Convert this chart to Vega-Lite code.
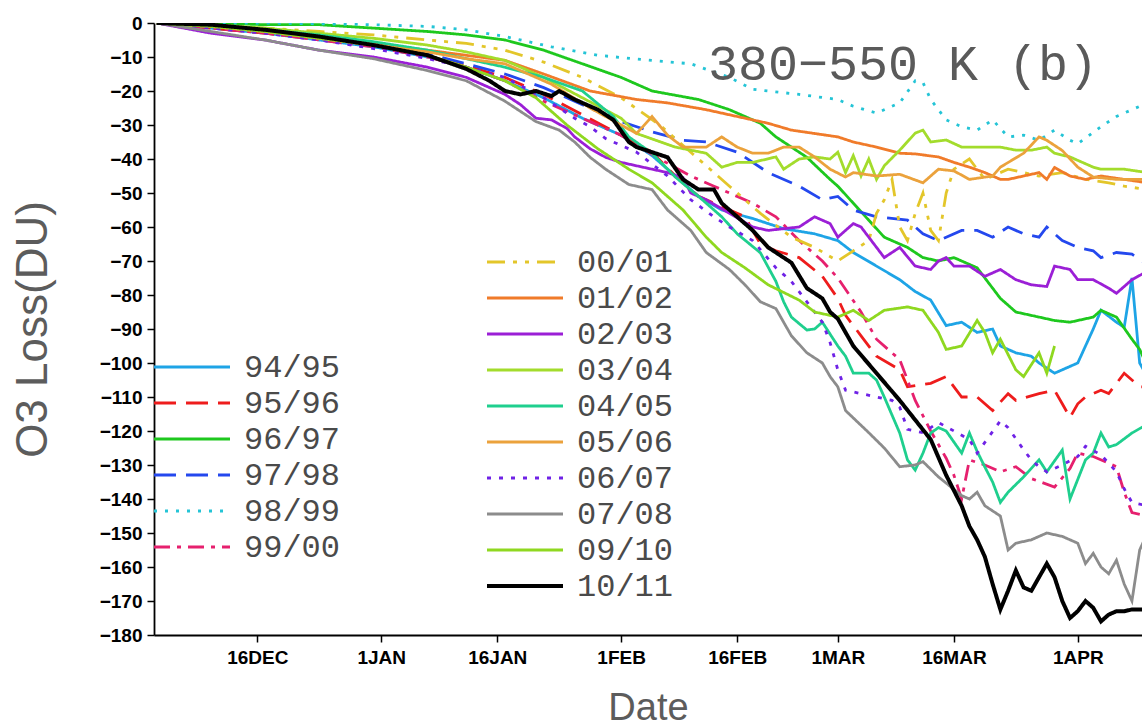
{
  "$schema": "https://vega.github.io/schema/vega-lite/v6.json",
  "width": 988,
  "height": 612,
  "autosize": "none",
  "padding": {"left": 154, "top": 23, "right": 0, "bottom": 91},
  "background": "white",
  "config": {
    "view": {"stroke": null},
    "font": "Liberation Sans",
    "axisY": {"labelOverlap": false, "labelBound": false},
    "axisX": {"labelOverlap": false}
  },
  "title": {
    "text": "380−550 K (b)",
    "orient": "top",
    "anchor": "end",
    "frame": "group",
    "offset": 0,
    "dx": -44,
    "dy": 116,
    "baseline": "alphabetic",
    "font": "Liberation Mono",
    "fontSize": 50,
    "fontWeight": "normal",
    "color": "#5a5a5a"
  },
  "datasets": {
    "loss": [
      {"season":"94/95","date":"2010-12-03","loss":0},{"season":"94/95","date":"2010-12-10","loss":-1.5},{"season":"94/95","date":"2010-12-17","loss":-3},{"season":"94/95","date":"2010-12-24","loss":-5},{"season":"94/95","date":"2010-12-31","loss":-7},{"season":"94/95","date":"2011-01-07","loss":-10},{"season":"94/95","date":"2011-01-12","loss":-13},{"season":"94/95","date":"2011-01-17","loss":-17},{"season":"94/95","date":"2011-01-22","loss":-22},{"season":"94/95","date":"2011-01-27","loss":-28},{"season":"94/95","date":"2011-02-01","loss":-33},{"season":"94/95","date":"2011-02-05","loss":-39},{"season":"94/95","date":"2011-02-08","loss":-45},{"season":"94/95","date":"2011-02-11","loss":-51},{"season":"94/95","date":"2011-02-14","loss":-55},{"season":"94/95","date":"2011-02-18","loss":-57.5},{"season":"94/95","date":"2011-02-22","loss":-60.5},{"season":"94/95","date":"2011-02-26","loss":-62},{"season":"94/95","date":"2011-03-01","loss":-64},{"season":"94/95","date":"2011-03-03","loss":-67.5},{"season":"94/95","date":"2011-03-06","loss":-71.5},{"season":"94/95","date":"2011-03-09","loss":-75.5},{"season":"94/95","date":"2011-03-11","loss":-79},{"season":"94/95","date":"2011-03-13","loss":-81.5},{"season":"94/95","date":"2011-03-15","loss":-89},{"season":"94/95","date":"2011-03-17","loss":-88},{"season":"94/95","date":"2011-03-19","loss":-91},{"season":"94/95","date":"2011-03-21","loss":-90},{"season":"94/95","date":"2011-03-22","loss":-95},{"season":"94/95","date":"2011-03-24","loss":-97},{"season":"94/95","date":"2011-03-26","loss":-98},{"season":"94/95","date":"2011-03-27","loss":-100},{"season":"94/95","date":"2011-03-29","loss":-103},{"season":"94/95","date":"2011-03-31","loss":-101},{"season":"94/95","date":"2011-04-01","loss":-100},{"season":"94/95","date":"2011-04-02","loss":-95},{"season":"94/95","date":"2011-04-03","loss":-90},{"season":"94/95","date":"2011-04-04","loss":-84.5},{"season":"94/95","date":"2011-04-06","loss":-88},{"season":"94/95","date":"2011-04-07","loss":-89.5},{"season":"94/95","date":"2011-04-08","loss":-75},{"season":"94/95","date":"2011-04-09","loss":-100},{"season":"94/95","date":"2011-04-10","loss":-104},

      {"season":"95/96","date":"2010-12-03","loss":0},{"season":"95/96","date":"2010-12-10","loss":-1.5},{"season":"95/96","date":"2010-12-17","loss":-3},{"season":"95/96","date":"2010-12-24","loss":-4.5},{"season":"95/96","date":"2010-12-31","loss":-6.5},{"season":"95/96","date":"2011-01-07","loss":-9.5},{"season":"95/96","date":"2011-01-12","loss":-12.5},{"season":"95/96","date":"2011-01-17","loss":-16},{"season":"95/96","date":"2011-01-22","loss":-21},{"season":"95/96","date":"2011-01-27","loss":-27},{"season":"95/96","date":"2011-02-01","loss":-33},{"season":"95/96","date":"2011-02-05","loss":-38},{"season":"95/96","date":"2011-02-08","loss":-45},{"season":"95/96","date":"2011-02-11","loss":-51},{"season":"95/96","date":"2011-02-14","loss":-54},{"season":"95/96","date":"2011-02-17","loss":-57},{"season":"95/96","date":"2011-02-19","loss":-65},{"season":"95/96","date":"2011-02-21","loss":-67},{"season":"95/96","date":"2011-02-24","loss":-69},{"season":"95/96","date":"2011-02-27","loss":-74.5},{"season":"95/96","date":"2011-03-01","loss":-81},{"season":"95/96","date":"2011-03-02","loss":-86},{"season":"95/96","date":"2011-03-04","loss":-92},{"season":"95/96","date":"2011-03-06","loss":-98},{"season":"95/96","date":"2011-03-09","loss":-102},{"season":"95/96","date":"2011-03-10","loss":-107},{"season":"95/96","date":"2011-03-13","loss":-106},{"season":"95/96","date":"2011-03-15","loss":-104},{"season":"95/96","date":"2011-03-17","loss":-110},{"season":"95/96","date":"2011-03-19","loss":-110},{"season":"95/96","date":"2011-03-21","loss":-114},{"season":"95/96","date":"2011-03-23","loss":-109},{"season":"95/96","date":"2011-03-24","loss":-111},{"season":"95/96","date":"2011-03-27","loss":-109},{"season":"95/96","date":"2011-03-29","loss":-108},{"season":"95/96","date":"2011-03-30","loss":-112},{"season":"95/96","date":"2011-03-31","loss":-116},{"season":"95/96","date":"2011-04-01","loss":-112},{"season":"95/96","date":"2011-04-02","loss":-110},{"season":"95/96","date":"2011-04-04","loss":-108},{"season":"95/96","date":"2011-04-05","loss":-109},{"season":"95/96","date":"2011-04-07","loss":-103},{"season":"95/96","date":"2011-04-09","loss":-107},{"season":"95/96","date":"2011-04-10","loss":-107},

      {"season":"96/97","date":"2010-12-03","loss":0},{"season":"96/97","date":"2010-12-10","loss":0},{"season":"96/97","date":"2010-12-17","loss":-0.5},{"season":"96/97","date":"2010-12-24","loss":-0.5},{"season":"96/97","date":"2010-12-31","loss":-1.5},{"season":"96/97","date":"2011-01-07","loss":-2.5},{"season":"96/97","date":"2011-01-12","loss":-3.5},{"season":"96/97","date":"2011-01-17","loss":-5},{"season":"96/97","date":"2011-01-22","loss":-8},{"season":"96/97","date":"2011-01-27","loss":-12},{"season":"96/97","date":"2011-02-01","loss":-16},{"season":"96/97","date":"2011-02-05","loss":-20},{"season":"96/97","date":"2011-02-11","loss":-22.5},{"season":"96/97","date":"2011-02-15","loss":-25.5},{"season":"96/97","date":"2011-02-19","loss":-29.5},{"season":"96/97","date":"2011-02-21","loss":-33.5},{"season":"96/97","date":"2011-02-25","loss":-39.5},{"season":"96/97","date":"2011-02-28","loss":-46},{"season":"96/97","date":"2011-03-01","loss":-48},{"season":"96/97","date":"2011-03-03","loss":-53},{"season":"96/97","date":"2011-03-05","loss":-58},{"season":"96/97","date":"2011-03-07","loss":-63},{"season":"96/97","date":"2011-03-10","loss":-66},{"season":"96/97","date":"2011-03-12","loss":-69},{"season":"96/97","date":"2011-03-14","loss":-70},{"season":"96/97","date":"2011-03-16","loss":-69},{"season":"96/97","date":"2011-03-19","loss":-72},{"season":"96/97","date":"2011-03-20","loss":-75},{"season":"96/97","date":"2011-03-21","loss":-78},{"season":"96/97","date":"2011-03-22","loss":-81},{"season":"96/97","date":"2011-03-24","loss":-85},{"season":"96/97","date":"2011-03-27","loss":-86.5},{"season":"96/97","date":"2011-03-29","loss":-87.5},{"season":"96/97","date":"2011-03-31","loss":-88},{"season":"96/97","date":"2011-04-03","loss":-86.5},{"season":"96/97","date":"2011-04-04","loss":-84.5},{"season":"96/97","date":"2011-04-06","loss":-86.5},{"season":"96/97","date":"2011-04-08","loss":-93},{"season":"96/97","date":"2011-04-09","loss":-96},{"season":"96/97","date":"2011-04-10","loss":-101},

      {"season":"97/98","date":"2010-12-03","loss":0},{"season":"97/98","date":"2010-12-10","loss":-1},{"season":"97/98","date":"2010-12-17","loss":-2.5},{"season":"97/98","date":"2010-12-24","loss":-4.5},{"season":"97/98","date":"2010-12-31","loss":-6.5},{"season":"97/98","date":"2011-01-07","loss":-9},{"season":"97/98","date":"2011-01-12","loss":-12},{"season":"97/98","date":"2011-01-17","loss":-15},{"season":"97/98","date":"2011-01-22","loss":-19},{"season":"97/98","date":"2011-01-27","loss":-24},{"season":"97/98","date":"2011-02-01","loss":-29},{"season":"97/98","date":"2011-02-05","loss":-32},{"season":"97/98","date":"2011-02-09","loss":-34.5},{"season":"97/98","date":"2011-02-12","loss":-35},{"season":"97/98","date":"2011-02-16","loss":-38},{"season":"97/98","date":"2011-02-20","loss":-44},{"season":"97/98","date":"2011-02-24","loss":-48},{"season":"97/98","date":"2011-02-27","loss":-52},{"season":"97/98","date":"2011-03-01","loss":-51},{"season":"97/98","date":"2011-03-03","loss":-55},{"season":"97/98","date":"2011-03-06","loss":-57},{"season":"97/98","date":"2011-03-10","loss":-58},{"season":"97/98","date":"2011-03-12","loss":-62},{"season":"97/98","date":"2011-03-14","loss":-64},{"season":"97/98","date":"2011-03-15","loss":-63},{"season":"97/98","date":"2011-03-17","loss":-61},{"season":"97/98","date":"2011-03-19","loss":-61},{"season":"97/98","date":"2011-03-21","loss":-63},{"season":"97/98","date":"2011-03-23","loss":-60},{"season":"97/98","date":"2011-03-25","loss":-62},{"season":"97/98","date":"2011-03-27","loss":-63},{"season":"97/98","date":"2011-03-28","loss":-60},{"season":"97/98","date":"2011-03-30","loss":-64},{"season":"97/98","date":"2011-04-01","loss":-66},{"season":"97/98","date":"2011-04-03","loss":-67},{"season":"97/98","date":"2011-04-04","loss":-69},{"season":"97/98","date":"2011-04-06","loss":-67.5},{"season":"97/98","date":"2011-04-08","loss":-68},{"season":"97/98","date":"2011-04-10","loss":-71},

      {"season":"98/99","date":"2010-12-03","loss":0},{"season":"98/99","date":"2010-12-17","loss":0},{"season":"98/99","date":"2010-12-31","loss":-0.5},{"season":"98/99","date":"2011-01-07","loss":-1},{"season":"98/99","date":"2011-01-12","loss":-2},{"season":"98/99","date":"2011-01-17","loss":-4},{"season":"98/99","date":"2011-01-23","loss":-7},{"season":"98/99","date":"2011-01-29","loss":-9.5},{"season":"98/99","date":"2011-02-05","loss":-11},{"season":"98/99","date":"2011-02-10","loss":-12},{"season":"98/99","date":"2011-02-15","loss":-16},{"season":"98/99","date":"2011-02-18","loss":-19.5},{"season":"98/99","date":"2011-02-24","loss":-21},{"season":"98/99","date":"2011-03-01","loss":-22.5},{"season":"98/99","date":"2011-03-03","loss":-24.5},{"season":"98/99","date":"2011-03-06","loss":-26.5},{"season":"98/99","date":"2011-03-09","loss":-23.5},{"season":"98/99","date":"2011-03-11","loss":-17},{"season":"98/99","date":"2011-03-12","loss":-17.5},{"season":"98/99","date":"2011-03-13","loss":-22.5},{"season":"98/99","date":"2011-03-15","loss":-28.5},{"season":"98/99","date":"2011-03-17","loss":-30.5},{"season":"98/99","date":"2011-03-19","loss":-31.5},{"season":"98/99","date":"2011-03-21","loss":-28.5},{"season":"98/99","date":"2011-03-23","loss":-33.5},{"season":"98/99","date":"2011-03-25","loss":-33},{"season":"98/99","date":"2011-03-27","loss":-34.5},{"season":"98/99","date":"2011-03-29","loss":-31.5},{"season":"98/99","date":"2011-03-31","loss":-34.5},{"season":"98/99","date":"2011-04-01","loss":-35.5},{"season":"98/99","date":"2011-04-04","loss":-30.5},{"season":"98/99","date":"2011-04-06","loss":-27.5},{"season":"98/99","date":"2011-04-08","loss":-25.5},{"season":"98/99","date":"2011-04-10","loss":-23.5},

      {"season":"99/00","date":"2010-12-03","loss":0},{"season":"99/00","date":"2010-12-10","loss":-1.5},{"season":"99/00","date":"2010-12-17","loss":-3},{"season":"99/00","date":"2010-12-24","loss":-5},{"season":"99/00","date":"2010-12-31","loss":-7},{"season":"99/00","date":"2011-01-07","loss":-10},{"season":"99/00","date":"2011-01-12","loss":-13},{"season":"99/00","date":"2011-01-17","loss":-17},{"season":"99/00","date":"2011-01-22","loss":-23},{"season":"99/00","date":"2011-01-27","loss":-28},{"season":"99/00","date":"2011-02-01","loss":-33},{"season":"99/00","date":"2011-02-06","loss":-40},{"season":"99/00","date":"2011-02-10","loss":-45},{"season":"99/00","date":"2011-02-13","loss":-48},{"season":"99/00","date":"2011-02-18","loss":-53},{"season":"99/00","date":"2011-02-21","loss":-57},{"season":"99/00","date":"2011-02-24","loss":-64},{"season":"99/00","date":"2011-02-27","loss":-70},{"season":"99/00","date":"2011-03-01","loss":-75},{"season":"99/00","date":"2011-03-04","loss":-85},{"season":"99/00","date":"2011-03-06","loss":-93},{"season":"99/00","date":"2011-03-09","loss":-99},{"season":"99/00","date":"2011-03-11","loss":-111},{"season":"99/00","date":"2011-03-13","loss":-120},{"season":"99/00","date":"2011-03-15","loss":-128},{"season":"99/00","date":"2011-03-16","loss":-133},{"season":"99/00","date":"2011-03-17","loss":-140},{"season":"99/00","date":"2011-03-18","loss":-128.5},{"season":"99/00","date":"2011-03-20","loss":-130},{"season":"99/00","date":"2011-03-22","loss":-132},{"season":"99/00","date":"2011-03-24","loss":-130.5},{"season":"99/00","date":"2011-03-26","loss":-134},{"season":"99/00","date":"2011-03-29","loss":-136.5},{"season":"99/00","date":"2011-03-31","loss":-131},{"season":"99/00","date":"2011-04-01","loss":-126.5},{"season":"99/00","date":"2011-04-03","loss":-127.5},{"season":"99/00","date":"2011-04-06","loss":-130.5},{"season":"99/00","date":"2011-04-07","loss":-138},{"season":"99/00","date":"2011-04-08","loss":-144},{"season":"99/00","date":"2011-04-10","loss":-145},

      {"season":"00/01","date":"2010-12-03","loss":0},{"season":"00/01","date":"2010-12-10","loss":-1},{"season":"00/01","date":"2010-12-17","loss":-1.5},{"season":"00/01","date":"2010-12-24","loss":-2.5},{"season":"00/01","date":"2010-12-31","loss":-3.5},{"season":"00/01","date":"2011-01-07","loss":-5},{"season":"00/01","date":"2011-01-12","loss":-6},{"season":"00/01","date":"2011-01-17","loss":-8},{"season":"00/01","date":"2011-01-22","loss":-11.5},{"season":"00/01","date":"2011-01-27","loss":-16},{"season":"00/01","date":"2011-02-01","loss":-22},{"season":"00/01","date":"2011-02-06","loss":-30},{"season":"00/01","date":"2011-02-10","loss":-38},{"season":"00/01","date":"2011-02-15","loss":-48},{"season":"00/01","date":"2011-02-19","loss":-56},{"season":"00/01","date":"2011-02-23","loss":-63},{"season":"00/01","date":"2011-02-26","loss":-66},{"season":"00/01","date":"2011-03-01","loss":-70},{"season":"00/01","date":"2011-03-03","loss":-67},{"season":"00/01","date":"2011-03-05","loss":-64},{"season":"00/01","date":"2011-03-06","loss":-56},{"season":"00/01","date":"2011-03-07","loss":-52},{"season":"00/01","date":"2011-03-08","loss":-46},{"season":"00/01","date":"2011-03-09","loss":-60},{"season":"00/01","date":"2011-03-10","loss":-64},{"season":"00/01","date":"2011-03-11","loss":-56},{"season":"00/01","date":"2011-03-12","loss":-50},{"season":"00/01","date":"2011-03-13","loss":-61},{"season":"00/01","date":"2011-03-14","loss":-64},{"season":"00/01","date":"2011-03-15","loss":-50},{"season":"00/01","date":"2011-03-16","loss":-43},{"season":"00/01","date":"2011-03-18","loss":-40},{"season":"00/01","date":"2011-03-20","loss":-46},{"season":"00/01","date":"2011-03-23","loss":-43},{"season":"00/01","date":"2011-03-27","loss":-45},{"season":"00/01","date":"2011-03-30","loss":-44},{"season":"00/01","date":"2011-04-02","loss":-46},{"season":"00/01","date":"2011-04-05","loss":-47},{"season":"00/01","date":"2011-04-07","loss":-48},{"season":"00/01","date":"2011-04-10","loss":-49},

      {"season":"01/02","date":"2010-12-03","loss":0},{"season":"01/02","date":"2010-12-10","loss":-1},{"season":"01/02","date":"2010-12-17","loss":-2.5},{"season":"01/02","date":"2010-12-24","loss":-4},{"season":"01/02","date":"2010-12-31","loss":-6},{"season":"01/02","date":"2011-01-07","loss":-8},{"season":"01/02","date":"2011-01-12","loss":-9.5},{"season":"01/02","date":"2011-01-17","loss":-11},{"season":"01/02","date":"2011-01-22","loss":-15},{"season":"01/02","date":"2011-01-28","loss":-20},{"season":"01/02","date":"2011-02-03","loss":-22.5},{"season":"01/02","date":"2011-02-07","loss":-23.5},{"season":"01/02","date":"2011-02-12","loss":-25.5},{"season":"01/02","date":"2011-02-16","loss":-27.5},{"season":"01/02","date":"2011-02-20","loss":-29.5},{"season":"01/02","date":"2011-02-23","loss":-31.5},{"season":"01/02","date":"2011-02-26","loss":-32.5},{"season":"01/02","date":"2011-03-01","loss":-33.5},{"season":"01/02","date":"2011-03-03","loss":-35},{"season":"01/02","date":"2011-03-06","loss":-36.5},{"season":"01/02","date":"2011-03-09","loss":-38.3},{"season":"01/02","date":"2011-03-11","loss":-38.5},{"season":"01/02","date":"2011-03-14","loss":-39.4},{"season":"01/02","date":"2011-03-16","loss":-41},{"season":"01/02","date":"2011-03-18","loss":-42.4},{"season":"01/02","date":"2011-03-20","loss":-44},{"season":"01/02","date":"2011-03-22","loss":-46},{"season":"01/02","date":"2011-03-23","loss":-46},{"season":"01/02","date":"2011-03-25","loss":-45},{"season":"01/02","date":"2011-03-27","loss":-44},{"season":"01/02","date":"2011-03-28","loss":-46},{"season":"01/02","date":"2011-03-29","loss":-42.5},{"season":"01/02","date":"2011-03-31","loss":-45},{"season":"01/02","date":"2011-04-02","loss":-46},{"season":"01/02","date":"2011-04-04","loss":-45},{"season":"01/02","date":"2011-04-07","loss":-46},{"season":"01/02","date":"2011-04-10","loss":-47},

      {"season":"02/03","date":"2010-12-03","loss":0},{"season":"02/03","date":"2010-12-10","loss":-3},{"season":"02/03","date":"2010-12-17","loss":-5},{"season":"02/03","date":"2010-12-24","loss":-8},{"season":"02/03","date":"2010-12-31","loss":-10},{"season":"02/03","date":"2011-01-07","loss":-13},{"season":"02/03","date":"2011-01-12","loss":-16},{"season":"02/03","date":"2011-01-17","loss":-21},{"season":"02/03","date":"2011-01-19","loss":-24},{"season":"02/03","date":"2011-01-21","loss":-28},{"season":"02/03","date":"2011-01-23","loss":-28.5},{"season":"02/03","date":"2011-01-25","loss":-31},{"season":"02/03","date":"2011-01-26","loss":-33.5},{"season":"02/03","date":"2011-01-28","loss":-37},{"season":"02/03","date":"2011-01-30","loss":-39.5},{"season":"02/03","date":"2011-02-01","loss":-41},{"season":"02/03","date":"2011-02-03","loss":-42},{"season":"02/03","date":"2011-02-05","loss":-43},{"season":"02/03","date":"2011-02-07","loss":-44},{"season":"02/03","date":"2011-02-09","loss":-45.5},{"season":"02/03","date":"2011-02-10","loss":-50},{"season":"02/03","date":"2011-02-12","loss":-52},{"season":"02/03","date":"2011-02-15","loss":-56},{"season":"02/03","date":"2011-02-18","loss":-60},{"season":"02/03","date":"2011-02-20","loss":-61},{"season":"02/03","date":"2011-02-22","loss":-60.5},{"season":"02/03","date":"2011-02-24","loss":-60},{"season":"02/03","date":"2011-02-26","loss":-57},{"season":"02/03","date":"2011-02-28","loss":-59},{"season":"02/03","date":"2011-03-01","loss":-63},{"season":"02/03","date":"2011-03-03","loss":-59},{"season":"02/03","date":"2011-03-04","loss":-60},{"season":"02/03","date":"2011-03-06","loss":-66},{"season":"02/03","date":"2011-03-07","loss":-69},{"season":"02/03","date":"2011-03-09","loss":-66},{"season":"02/03","date":"2011-03-11","loss":-71.5},{"season":"02/03","date":"2011-03-13","loss":-72.5},{"season":"02/03","date":"2011-03-14","loss":-70},{"season":"02/03","date":"2011-03-15","loss":-69},{"season":"02/03","date":"2011-03-16","loss":-71.5},{"season":"02/03","date":"2011-03-18","loss":-71.5},{"season":"02/03","date":"2011-03-20","loss":-74.5},{"season":"02/03","date":"2011-03-22","loss":-72.5},{"season":"02/03","date":"2011-03-24","loss":-75.5},{"season":"02/03","date":"2011-03-26","loss":-77},{"season":"02/03","date":"2011-03-28","loss":-77.5},{"season":"02/03","date":"2011-03-29","loss":-71.5},{"season":"02/03","date":"2011-03-31","loss":-72.5},{"season":"02/03","date":"2011-04-01","loss":-75.5},{"season":"02/03","date":"2011-04-03","loss":-75.5},{"season":"02/03","date":"2011-04-05","loss":-78},{"season":"02/03","date":"2011-04-06","loss":-79.5},{"season":"02/03","date":"2011-04-08","loss":-75.5},{"season":"02/03","date":"2011-04-10","loss":-73},

      {"season":"03/04","date":"2010-12-03","loss":0},{"season":"03/04","date":"2010-12-10","loss":-0.5},{"season":"03/04","date":"2010-12-17","loss":-1.5},{"season":"03/04","date":"2010-12-24","loss":-3},{"season":"03/04","date":"2010-12-31","loss":-4.5},{"season":"03/04","date":"2011-01-07","loss":-6.5},{"season":"03/04","date":"2011-01-12","loss":-8.5},{"season":"03/04","date":"2011-01-17","loss":-11},{"season":"03/04","date":"2011-01-22","loss":-16},{"season":"03/04","date":"2011-01-27","loss":-22},{"season":"03/04","date":"2011-02-01","loss":-28},{"season":"03/04","date":"2011-02-03","loss":-32.5},{"season":"03/04","date":"2011-02-08","loss":-36.5},{"season":"03/04","date":"2011-02-12","loss":-38.3},{"season":"03/04","date":"2011-02-14","loss":-42.4},{"season":"03/04","date":"2011-02-16","loss":-41},{"season":"03/04","date":"2011-02-18","loss":-41},{"season":"03/04","date":"2011-02-21","loss":-39.4},{"season":"03/04","date":"2011-02-22","loss":-43},{"season":"03/04","date":"2011-02-24","loss":-40},{"season":"03/04","date":"2011-02-26","loss":-39.4},{"season":"03/04","date":"2011-02-28","loss":-40},{"season":"03/04","date":"2011-03-01","loss":-38},{"season":"03/04","date":"2011-03-02","loss":-44},{"season":"03/04","date":"2011-03-03","loss":-39},{"season":"03/04","date":"2011-03-04","loss":-45},{"season":"03/04","date":"2011-03-05","loss":-40},{"season":"03/04","date":"2011-03-06","loss":-46},{"season":"03/04","date":"2011-03-07","loss":-42},{"season":"03/04","date":"2011-03-09","loss":-37.4},{"season":"03/04","date":"2011-03-11","loss":-32.4},{"season":"03/04","date":"2011-03-12","loss":-31.5},{"season":"03/04","date":"2011-03-13","loss":-35},{"season":"03/04","date":"2011-03-15","loss":-34.4},{"season":"03/04","date":"2011-03-17","loss":-36.5},{"season":"03/04","date":"2011-03-20","loss":-36.5},{"season":"03/04","date":"2011-03-22","loss":-36.5},{"season":"03/04","date":"2011-03-24","loss":-37.4},{"season":"03/04","date":"2011-03-26","loss":-37.4},{"season":"03/04","date":"2011-03-28","loss":-36.5},{"season":"03/04","date":"2011-03-29","loss":-38.3},{"season":"03/04","date":"2011-03-31","loss":-39.4},{"season":"03/04","date":"2011-04-03","loss":-42.4},{"season":"03/04","date":"2011-04-04","loss":-43},{"season":"03/04","date":"2011-04-07","loss":-43},{"season":"03/04","date":"2011-04-10","loss":-44},

      {"season":"04/05","date":"2010-12-03","loss":0},{"season":"04/05","date":"2010-12-10","loss":-1},{"season":"04/05","date":"2010-12-17","loss":-2},{"season":"04/05","date":"2010-12-24","loss":-3.5},{"season":"04/05","date":"2010-12-31","loss":-5.5},{"season":"04/05","date":"2011-01-07","loss":-8},{"season":"04/05","date":"2011-01-12","loss":-10.5},{"season":"04/05","date":"2011-01-17","loss":-13},{"season":"04/05","date":"2011-01-22","loss":-16},{"season":"04/05","date":"2011-01-27","loss":-20},{"season":"04/05","date":"2011-01-31","loss":-27.5},{"season":"04/05","date":"2011-02-02","loss":-33.5},{"season":"04/05","date":"2011-02-05","loss":-38.3},{"season":"04/05","date":"2011-02-08","loss":-45.3},{"season":"04/05","date":"2011-02-11","loss":-51},{"season":"04/05","date":"2011-02-14","loss":-57},{"season":"04/05","date":"2011-02-16","loss":-62},{"season":"04/05","date":"2011-02-19","loss":-67.6},{"season":"04/05","date":"2011-02-21","loss":-76},{"season":"04/05","date":"2011-02-22","loss":-82},{"season":"04/05","date":"2011-02-23","loss":-86.5},{"season":"04/05","date":"2011-02-25","loss":-90.3},{"season":"04/05","date":"2011-02-26","loss":-90},{"season":"04/05","date":"2011-02-27","loss":-88},{"season":"04/05","date":"2011-03-01","loss":-95},{"season":"04/05","date":"2011-03-02","loss":-98},{"season":"04/05","date":"2011-03-03","loss":-103},{"season":"04/05","date":"2011-03-05","loss":-103},{"season":"04/05","date":"2011-03-06","loss":-105},{"season":"04/05","date":"2011-03-07","loss":-110},{"season":"04/05","date":"2011-03-09","loss":-120.6},{"season":"04/05","date":"2011-03-10","loss":-128.5},{"season":"04/05","date":"2011-03-11","loss":-131.5},{"season":"04/05","date":"2011-03-12","loss":-126.5},{"season":"04/05","date":"2011-03-13","loss":-120.6},{"season":"04/05","date":"2011-03-14","loss":-119},{"season":"04/05","date":"2011-03-15","loss":-120},{"season":"04/05","date":"2011-03-17","loss":-126.5},{"season":"04/05","date":"2011-03-18","loss":-120.6},{"season":"04/05","date":"2011-03-19","loss":-126},{"season":"04/05","date":"2011-03-20","loss":-130.6},{"season":"04/05","date":"2011-03-21","loss":-135},{"season":"04/05","date":"2011-03-22","loss":-141},{"season":"04/05","date":"2011-03-23","loss":-138},{"season":"04/05","date":"2011-03-25","loss":-133.5},{"season":"04/05","date":"2011-03-27","loss":-128.5},{"season":"04/05","date":"2011-03-28","loss":-132},{"season":"04/05","date":"2011-03-30","loss":-125.6},{"season":"04/05","date":"2011-03-31","loss":-140},{"season":"04/05","date":"2011-04-02","loss":-128.5},{"season":"04/05","date":"2011-04-03","loss":-126.5},{"season":"04/05","date":"2011-04-04","loss":-120.6},{"season":"04/05","date":"2011-04-05","loss":-124.7},{"season":"04/05","date":"2011-04-06","loss":-124},{"season":"04/05","date":"2011-04-08","loss":-120.6},{"season":"04/05","date":"2011-04-10","loss":-118},

      {"season":"05/06","date":"2010-12-03","loss":0},{"season":"05/06","date":"2010-12-10","loss":-1},{"season":"05/06","date":"2010-12-17","loss":-2.5},{"season":"05/06","date":"2010-12-24","loss":-4.5},{"season":"05/06","date":"2010-12-31","loss":-6.5},{"season":"05/06","date":"2011-01-07","loss":-8.5},{"season":"05/06","date":"2011-01-12","loss":-10.5},{"season":"05/06","date":"2011-01-17","loss":-12},{"season":"05/06","date":"2011-01-23","loss":-18},{"season":"05/06","date":"2011-01-28","loss":-25},{"season":"05/06","date":"2011-02-01","loss":-30},{"season":"05/06","date":"2011-02-03","loss":-32.5},{"season":"05/06","date":"2011-02-05","loss":-27.5},{"season":"05/06","date":"2011-02-07","loss":-33},{"season":"05/06","date":"2011-02-09","loss":-36.5},{"season":"05/06","date":"2011-02-12","loss":-36.5},{"season":"05/06","date":"2011-02-14","loss":-33.5},{"season":"05/06","date":"2011-02-16","loss":-36.5},{"season":"05/06","date":"2011-02-18","loss":-38.3},{"season":"05/06","date":"2011-02-20","loss":-38.3},{"season":"05/06","date":"2011-02-22","loss":-36.5},{"season":"05/06","date":"2011-02-24","loss":-36.5},{"season":"05/06","date":"2011-02-26","loss":-39.4},{"season":"05/06","date":"2011-02-28","loss":-43},{"season":"05/06","date":"2011-03-02","loss":-45.3},{"season":"05/06","date":"2011-03-03","loss":-44},{"season":"05/06","date":"2011-03-06","loss":-45},{"season":"05/06","date":"2011-03-09","loss":-44.5},{"season":"05/06","date":"2011-03-12","loss":-47},{"season":"05/06","date":"2011-03-14","loss":-43},{"season":"05/06","date":"2011-03-16","loss":-43.5},{"season":"05/06","date":"2011-03-18","loss":-46},{"season":"05/06","date":"2011-03-21","loss":-45},{"season":"05/06","date":"2011-03-22","loss":-42.4},{"season":"05/06","date":"2011-03-25","loss":-38.3},{"season":"05/06","date":"2011-03-27","loss":-33.5},{"season":"05/06","date":"2011-03-28","loss":-34.5},{"season":"05/06","date":"2011-03-30","loss":-37.5},{"season":"05/06","date":"2011-04-01","loss":-42.4},{"season":"05/06","date":"2011-04-03","loss":-45.3},{"season":"05/06","date":"2011-04-06","loss":-46},{"season":"05/06","date":"2011-04-10","loss":-46},

      {"season":"06/07","date":"2010-12-03","loss":0},{"season":"06/07","date":"2010-12-10","loss":-1.5},{"season":"06/07","date":"2010-12-17","loss":-3},{"season":"06/07","date":"2010-12-24","loss":-5},{"season":"06/07","date":"2010-12-31","loss":-7.5},{"season":"06/07","date":"2011-01-07","loss":-10.5},{"season":"06/07","date":"2011-01-12","loss":-13},{"season":"06/07","date":"2011-01-17","loss":-16},{"season":"06/07","date":"2011-01-22","loss":-22},{"season":"06/07","date":"2011-01-26","loss":-28},{"season":"06/07","date":"2011-01-28","loss":-30.5},{"season":"06/07","date":"2011-01-30","loss":-34},{"season":"06/07","date":"2011-02-03","loss":-38},{"season":"06/07","date":"2011-02-07","loss":-45},{"season":"06/07","date":"2011-02-10","loss":-52},{"season":"06/07","date":"2011-02-13","loss":-57},{"season":"06/07","date":"2011-02-15","loss":-60},{"season":"06/07","date":"2011-02-18","loss":-64},{"season":"06/07","date":"2011-02-21","loss":-72},{"season":"06/07","date":"2011-02-23","loss":-76},{"season":"06/07","date":"2011-02-25","loss":-82},{"season":"06/07","date":"2011-02-27","loss":-88},{"season":"06/07","date":"2011-02-28","loss":-94},{"season":"06/07","date":"2011-03-01","loss":-102},{"season":"06/07","date":"2011-03-02","loss":-108},{"season":"06/07","date":"2011-03-04","loss":-109},{"season":"06/07","date":"2011-03-06","loss":-110},{"season":"06/07","date":"2011-03-08","loss":-111},{"season":"06/07","date":"2011-03-09","loss":-113},{"season":"06/07","date":"2011-03-10","loss":-119.5},{"season":"06/07","date":"2011-03-12","loss":-120.5},{"season":"06/07","date":"2011-03-14","loss":-117.5},{"season":"06/07","date":"2011-03-16","loss":-120},{"season":"06/07","date":"2011-03-18","loss":-122.5},{"season":"06/07","date":"2011-03-19","loss":-126.5},{"season":"06/07","date":"2011-03-22","loss":-117},{"season":"06/07","date":"2011-03-23","loss":-119},{"season":"06/07","date":"2011-03-25","loss":-125.5},{"season":"06/07","date":"2011-03-26","loss":-128.5},{"season":"06/07","date":"2011-03-27","loss":-130.5},{"season":"06/07","date":"2011-03-28","loss":-132},{"season":"06/07","date":"2011-03-30","loss":-130},{"season":"06/07","date":"2011-04-01","loss":-127.5},{"season":"06/07","date":"2011-04-02","loss":-124.5},{"season":"06/07","date":"2011-04-04","loss":-127},{"season":"06/07","date":"2011-04-06","loss":-132},{"season":"06/07","date":"2011-04-07","loss":-137},{"season":"06/07","date":"2011-04-08","loss":-141},{"season":"06/07","date":"2011-04-10","loss":-142},

      {"season":"07/08","date":"2010-12-03","loss":0},{"season":"07/08","date":"2010-12-10","loss":-2.5},{"season":"07/08","date":"2010-12-17","loss":-5},{"season":"07/08","date":"2010-12-24","loss":-8},{"season":"07/08","date":"2010-12-31","loss":-10.5},{"season":"07/08","date":"2011-01-07","loss":-14},{"season":"07/08","date":"2011-01-12","loss":-17},{"season":"07/08","date":"2011-01-17","loss":-23},{"season":"07/08","date":"2011-01-21","loss":-29},{"season":"07/08","date":"2011-01-24","loss":-31.5},{"season":"07/08","date":"2011-01-26","loss":-35},{"season":"07/08","date":"2011-01-28","loss":-39.5},{"season":"07/08","date":"2011-01-30","loss":-43},{"season":"07/08","date":"2011-02-02","loss":-47.5},{"season":"07/08","date":"2011-02-05","loss":-49},{"season":"07/08","date":"2011-02-07","loss":-55},{"season":"07/08","date":"2011-02-10","loss":-61},{"season":"07/08","date":"2011-02-12","loss":-67.5},{"season":"07/08","date":"2011-02-15","loss":-72.5},{"season":"07/08","date":"2011-02-17","loss":-77},{"season":"07/08","date":"2011-02-19","loss":-82},{"season":"07/08","date":"2011-02-21","loss":-84},{"season":"07/08","date":"2011-02-23","loss":-92},{"season":"07/08","date":"2011-02-25","loss":-97},{"season":"07/08","date":"2011-02-27","loss":-100},{"season":"07/08","date":"2011-02-28","loss":-104},{"season":"07/08","date":"2011-03-01","loss":-107},{"season":"07/08","date":"2011-03-02","loss":-114},{"season":"07/08","date":"2011-03-05","loss":-120.5},{"season":"07/08","date":"2011-03-07","loss":-125},{"season":"07/08","date":"2011-03-09","loss":-130.5},{"season":"07/08","date":"2011-03-11","loss":-130},{"season":"07/08","date":"2011-03-12","loss":-129},{"season":"07/08","date":"2011-03-14","loss":-133.5},{"season":"07/08","date":"2011-03-17","loss":-139},{"season":"07/08","date":"2011-03-18","loss":-140},{"season":"07/08","date":"2011-03-19","loss":-138},{"season":"07/08","date":"2011-03-20","loss":-142},{"season":"07/08","date":"2011-03-22","loss":-145},{"season":"07/08","date":"2011-03-23","loss":-155},{"season":"07/08","date":"2011-03-24","loss":-153},{"season":"07/08","date":"2011-03-26","loss":-152},{"season":"07/08","date":"2011-03-28","loss":-150},{"season":"07/08","date":"2011-03-30","loss":-151},{"season":"07/08","date":"2011-04-01","loss":-153},{"season":"07/08","date":"2011-04-02","loss":-159},{"season":"07/08","date":"2011-04-03","loss":-156},{"season":"07/08","date":"2011-04-04","loss":-160},{"season":"07/08","date":"2011-04-05","loss":-162},{"season":"07/08","date":"2011-04-06","loss":-158},{"season":"07/08","date":"2011-04-07","loss":-165},{"season":"07/08","date":"2011-04-08","loss":-170},{"season":"07/08","date":"2011-04-09","loss":-155},{"season":"07/08","date":"2011-04-10","loss":-150},

      {"season":"09/10","date":"2010-12-03","loss":0},{"season":"09/10","date":"2010-12-10","loss":-1},{"season":"09/10","date":"2010-12-17","loss":-2.5},{"season":"09/10","date":"2010-12-24","loss":-4.5},{"season":"09/10","date":"2010-12-31","loss":-6.5},{"season":"09/10","date":"2011-01-07","loss":-9.5},{"season":"09/10","date":"2011-01-12","loss":-13},{"season":"09/10","date":"2011-01-17","loss":-17},{"season":"09/10","date":"2011-01-21","loss":-22},{"season":"09/10","date":"2011-01-25","loss":-30},{"season":"09/10","date":"2011-01-29","loss":-37},{"season":"09/10","date":"2011-02-02","loss":-43},{"season":"09/10","date":"2011-02-05","loss":-47},{"season":"09/10","date":"2011-02-09","loss":-55},{"season":"09/10","date":"2011-02-12","loss":-63},{"season":"09/10","date":"2011-02-14","loss":-67.5},{"season":"09/10","date":"2011-02-17","loss":-72},{"season":"09/10","date":"2011-02-20","loss":-77},{"season":"09/10","date":"2011-02-24","loss":-81.5},{"season":"09/10","date":"2011-02-26","loss":-85},{"season":"09/10","date":"2011-03-01","loss":-86.5},{"season":"09/10","date":"2011-03-03","loss":-84.5},{"season":"09/10","date":"2011-03-05","loss":-87.5},{"season":"09/10","date":"2011-03-07","loss":-84.5},{"season":"09/10","date":"2011-03-10","loss":-83.5},{"season":"09/10","date":"2011-03-12","loss":-84.5},{"season":"09/10","date":"2011-03-14","loss":-91},{"season":"09/10","date":"2011-03-15","loss":-96},{"season":"09/10","date":"2011-03-17","loss":-95},{"season":"09/10","date":"2011-03-19","loss":-87.5},{"season":"09/10","date":"2011-03-20","loss":-91},{"season":"09/10","date":"2011-03-21","loss":-97},{"season":"09/10","date":"2011-03-22","loss":-93},{"season":"09/10","date":"2011-03-24","loss":-102},{"season":"09/10","date":"2011-03-25","loss":-104},{"season":"09/10","date":"2011-03-27","loss":-97},{"season":"09/10","date":"2011-03-28","loss":-103},{"season":"09/10","date":"2011-03-29","loss":-95},

      {"season":"10/11","date":"2010-12-03","loss":0},{"season":"10/11","date":"2010-12-10","loss":-0.5},{"season":"10/11","date":"2010-12-17","loss":-2},{"season":"10/11","date":"2010-12-24","loss":-4},{"season":"10/11","date":"2010-12-31","loss":-6.5},{"season":"10/11","date":"2011-01-07","loss":-9.5},{"season":"10/11","date":"2011-01-12","loss":-13.5},{"season":"10/11","date":"2011-01-15","loss":-17},{"season":"10/11","date":"2011-01-17","loss":-20},{"season":"10/11","date":"2011-01-19","loss":-21},{"season":"10/11","date":"2011-01-21","loss":-20},{"season":"10/11","date":"2011-01-23","loss":-21.5},{"season":"10/11","date":"2011-01-24","loss":-20},{"season":"10/11","date":"2011-01-26","loss":-22.5},{"season":"10/11","date":"2011-01-29","loss":-25.5},{"season":"10/11","date":"2011-01-31","loss":-28.5},{"season":"10/11","date":"2011-02-02","loss":-35},{"season":"10/11","date":"2011-02-03","loss":-36.5},{"season":"10/11","date":"2011-02-05","loss":-38},{"season":"10/11","date":"2011-02-07","loss":-39.5},{"season":"10/11","date":"2011-02-09","loss":-46},{"season":"10/11","date":"2011-02-11","loss":-49},{"season":"10/11","date":"2011-02-13","loss":-49},{"season":"10/11","date":"2011-02-14","loss":-53},{"season":"10/11","date":"2011-02-16","loss":-57},{"season":"10/11","date":"2011-02-18","loss":-61},{"season":"10/11","date":"2011-02-20","loss":-66},{"season":"10/11","date":"2011-02-23","loss":-70.5},{"season":"10/11","date":"2011-02-25","loss":-78},{"season":"10/11","date":"2011-02-27","loss":-81},{"season":"10/11","date":"2011-02-28","loss":-85},{"season":"10/11","date":"2011-03-01","loss":-87},{"season":"10/11","date":"2011-03-03","loss":-95},{"season":"10/11","date":"2011-03-06","loss":-103},{"season":"10/11","date":"2011-03-09","loss":-111},{"season":"10/11","date":"2011-03-13","loss":-122.5},{"season":"10/11","date":"2011-03-15","loss":-133},{"season":"10/11","date":"2011-03-17","loss":-142},{"season":"10/11","date":"2011-03-18","loss":-148},{"season":"10/11","date":"2011-03-19","loss":-152},{"season":"10/11","date":"2011-03-20","loss":-157},{"season":"10/11","date":"2011-03-21","loss":-165},{"season":"10/11","date":"2011-03-22","loss":-172.5},{"season":"10/11","date":"2011-03-23","loss":-167},{"season":"10/11","date":"2011-03-24","loss":-161},{"season":"10/11","date":"2011-03-25","loss":-166},{"season":"10/11","date":"2011-03-26","loss":-167},{"season":"10/11","date":"2011-03-27","loss":-163},{"season":"10/11","date":"2011-03-28","loss":-159},{"season":"10/11","date":"2011-03-29","loss":-163},{"season":"10/11","date":"2011-03-30","loss":-170},{"season":"10/11","date":"2011-03-31","loss":-175},{"season":"10/11","date":"2011-04-01","loss":-173},{"season":"10/11","date":"2011-04-02","loss":-170},{"season":"10/11","date":"2011-04-03","loss":-172},{"season":"10/11","date":"2011-04-04","loss":-176},{"season":"10/11","date":"2011-04-05","loss":-174},{"season":"10/11","date":"2011-04-06","loss":-173},{"season":"10/11","date":"2011-04-07","loss":-173},{"season":"10/11","date":"2011-04-08","loss":-172.5},{"season":"10/11","date":"2011-04-10","loss":-172.5}
    ]
  },
  "layer": [
    {
      "data": {"name": "loss"},
      "transform": [{"filter": {"field": "season", "oneOf": ["94/95","95/96","96/97","97/98","98/99","99/00"]}}],
      "mark": {"type": "line", "strokeWidth": 2.8, "clip": true},
      "encoding": {
        "x": {
          "field": "date", "type": "temporal",
          "scale": {"type": "utc", "nice": false, "domain": [{"year": 2010, "month": 12, "date": 2, "hours": 15, "minutes": 36, "utc": true}, {"year": 2011, "month": 4, "date": 9, "hours": 7, "minutes": 12, "utc": true}]},
          "axis": {
            "title": "Date",
            "values": [{"year": 2010, "month": 12, "date": 16, "utc": true}, {"year": 2011, "month": 1, "date": 1, "utc": true}, {"year": 2011, "month": 1, "date": 16, "utc": true}, {"year": 2011, "month": 2, "date": 1, "utc": true}, {"year": 2011, "month": 2, "date": 16, "utc": true}, {"year": 2011, "month": 3, "date": 1, "utc": true}, {"year": 2011, "month": 3, "date": 16, "utc": true}, {"year": 2011, "month": 4, "date": 1, "utc": true}],
            "labelExpr": "utcFormat(datum.value, '%-d') + upper(utcFormat(datum.value, '%b'))",
            "grid": false, "tickSize": 7, "tickWidth": 1.5, "tickColor": "#000", "domainColor": "#000", "domainWidth": 1.8,
            "labelFont": "Liberation Sans", "labelFontWeight": "bold", "labelFontSize": 19, "labelColor": "#000", "labelPadding": 6, "labelOverlap": false, "labelFlush": false,
            "titleFont": "Liberation Sans", "titleFontSize": 38, "titleFontWeight": "normal", "titleColor": "#5c5c5c", "titlePadding": 22
          }
        },
        "y": {
          "field": "loss", "type": "quantitative",
          "scale": {"domain": [-180, 0], "nice": false, "zero": false},
          "axis": {
            "title": "O3 Loss(DU)",
            "values": [-180,-170,-160,-150,-140,-130,-120,-110,-100,-90,-80,-70,-60,-50,-40,-30,-20,-10,0],
            "labelExpr": "datum.value < 0 ? '−' + abs(datum.value) : '' + datum.value",
            "grid": false, "tickSize": 7, "tickWidth": 1.5, "tickColor": "#000", "domainColor": "#000", "domainWidth": 1.8,
            "labelFont": "Liberation Sans", "labelFontWeight": "bold", "labelFontSize": 19, "labelColor": "#000", "labelPadding": 5, "labelOverlap": false, "labelFlush": false,
            "titleFont": "Liberation Sans", "titleFontSize": 44, "titleFontWeight": "normal", "titleColor": "#5c5c5c", "titleX": -99
          }
        },
        "color": {
          "field": "season", "type": "nominal",
          "scale": {"domain": ["94/95","95/96","96/97","97/98","98/99","99/00"], "range": ["#1ea4e6","#ee1c1c","#1ec81e","#2448ee","#24c4d6","#e6206e"]},
          "legend": {"orient": "none", "legendX": 0, "legendY": 328, "title": null, "padding": 0, "symbolType": "M-4,0H4", "symbolSize": 361, "symbolOffset": 22, "symbolStrokeWidth": 2.8, "labelOffset": 36, "labelFont": "Liberation Mono", "labelFontSize": 32, "labelColor": "#4a4a4a", "rowPadding": 4, "labelLimit": 0}
        },
        "strokeDash": {
          "field": "season", "type": "nominal",
          "scale": {"domain": ["94/95","95/96","96/97","97/98","98/99","99/00"], "range": [[1,0],[22,10],[1,0],[22,10],[3,8],[16,7,4,7]]},
          "legend": {"orient": "none", "legendX": 0, "legendY": 328, "title": null, "padding": 0, "symbolType": "M-4,0H4", "symbolSize": 361, "symbolOffset": 22, "symbolStrokeWidth": 2.8, "labelOffset": 36, "labelFont": "Liberation Mono", "labelFontSize": 32, "labelColor": "#4a4a4a", "rowPadding": 4, "labelLimit": 0}
        }
      }
    },
    {
      "data": {"name": "loss"},
      "transform": [{"filter": {"field": "season", "oneOf": ["00/01","01/02","02/03","03/04","04/05","05/06","06/07","07/08","09/10","10/11"]}}],
      "mark": {"type": "line", "clip": true},
      "encoding": {
        "x": {
          "field": "date", "type": "temporal",
          "scale": {"type": "utc", "nice": false, "domain": [{"year": 2010, "month": 12, "date": 2, "hours": 15, "minutes": 36, "utc": true}, {"year": 2011, "month": 4, "date": 9, "hours": 7, "minutes": 12, "utc": true}]},
          "axis": {
            "title": "Date",
            "values": [{"year": 2010, "month": 12, "date": 16, "utc": true}, {"year": 2011, "month": 1, "date": 1, "utc": true}, {"year": 2011, "month": 1, "date": 16, "utc": true}, {"year": 2011, "month": 2, "date": 1, "utc": true}, {"year": 2011, "month": 2, "date": 16, "utc": true}, {"year": 2011, "month": 3, "date": 1, "utc": true}, {"year": 2011, "month": 3, "date": 16, "utc": true}, {"year": 2011, "month": 4, "date": 1, "utc": true}],
            "labelExpr": "utcFormat(datum.value, '%-d') + upper(utcFormat(datum.value, '%b'))",
            "grid": false, "tickSize": 7, "tickWidth": 1.5, "tickColor": "#000", "domainColor": "#000", "domainWidth": 1.8,
            "labelFont": "Liberation Sans", "labelFontWeight": "bold", "labelFontSize": 19, "labelColor": "#000", "labelPadding": 6, "labelOverlap": false, "labelFlush": false,
            "titleFont": "Liberation Sans", "titleFontSize": 38, "titleFontWeight": "normal", "titleColor": "#5c5c5c", "titlePadding": 22
          }
        },
        "y": {
          "field": "loss", "type": "quantitative",
          "scale": {"domain": [-180, 0], "nice": false, "zero": false},
          "axis": {
            "title": "O3 Loss(DU)",
            "values": [-180,-170,-160,-150,-140,-130,-120,-110,-100,-90,-80,-70,-60,-50,-40,-30,-20,-10,0],
            "labelExpr": "datum.value < 0 ? '−' + abs(datum.value) : '' + datum.value",
            "grid": false, "tickSize": 7, "tickWidth": 1.5, "tickColor": "#000", "domainColor": "#000", "domainWidth": 1.8,
            "labelFont": "Liberation Sans", "labelFontWeight": "bold", "labelFontSize": 19, "labelColor": "#000", "labelPadding": 5, "labelOverlap": false, "labelFlush": false,
            "titleFont": "Liberation Sans", "titleFontSize": 44, "titleFontWeight": "normal", "titleColor": "#5c5c5c", "titleX": -99
          }
        },
        "color": {
          "field": "season", "type": "nominal",
          "scale": {"domain": ["00/01","01/02","02/03","03/04","04/05","05/06","06/07","07/08","09/10","10/11"], "range": ["#e3c62a","#f07b2a","#9b1fd6","#a3dc2c","#1fcf8e","#eba23c","#6f22e6","#8c8c8c","#8fd820","#000000"]},
          "legend": {"orient": "none", "legendX": 333, "legendY": 223, "title": null, "padding": 0, "symbolType": "M-4,0H4", "symbolSize": 361, "symbolOffset": 22, "labelOffset": 36, "labelFont": "Liberation Mono", "labelFontSize": 32, "labelColor": "#4a4a4a", "rowPadding": 4, "labelLimit": 0}
        },
        "strokeDash": {
          "field": "season", "type": "nominal",
          "scale": {"domain": ["00/01","01/02","02/03","03/04","04/05","05/06","06/07","07/08","09/10","10/11"], "range": [[18,8,4,8,4,8],[1,0],[1,0],[1,0],[1,0],[1,0],[4,8],[1,0],[1,0],[1,0]]},
          "legend": {"orient": "none", "legendX": 333, "legendY": 223, "title": null, "padding": 0, "symbolType": "M-4,0H4", "symbolSize": 361, "symbolOffset": 22, "labelOffset": 36, "labelFont": "Liberation Mono", "labelFontSize": 32, "labelColor": "#4a4a4a", "rowPadding": 4, "labelLimit": 0}
        },
        "strokeWidth": {
          "field": "season", "type": "nominal",
          "scale": {"type": "ordinal", "domain": ["00/01","01/02","02/03","03/04","04/05","05/06","06/07","07/08","09/10","10/11"], "range": [2.8,2.8,2.8,2.8,2.8,2.8,2.8,2.8,2.8,4]},
          "legend": {"orient": "none", "legendX": 333, "legendY": 223, "title": null, "padding": 0, "symbolType": "M-4,0H4", "symbolSize": 361, "symbolOffset": 22, "labelOffset": 36, "labelFont": "Liberation Mono", "labelFontSize": 32, "labelColor": "#4a4a4a", "rowPadding": 4, "labelLimit": 0}
        }
      }
    },
    {
      "mark": {"type": "rule", "color": "#000", "strokeWidth": 1.8},
      "encoding": {
        "y": {
          "datum": 0,
          "scale": {"domain": [-180, 0], "nice": false, "zero": false},
          "axis": {
            "title": "O3 Loss(DU)",
            "values": [-180,-170,-160,-150,-140,-130,-120,-110,-100,-90,-80,-70,-60,-50,-40,-30,-20,-10,0],
            "labelExpr": "datum.value < 0 ? '−' + abs(datum.value) : '' + datum.value",
            "grid": false, "tickSize": 7, "tickWidth": 1.5, "tickColor": "#000", "domainColor": "#000", "domainWidth": 1.8,
            "labelFont": "Liberation Sans", "labelFontWeight": "bold", "labelFontSize": 19, "labelColor": "#000", "labelPadding": 5, "labelOverlap": false, "labelFlush": false,
            "titleFont": "Liberation Sans", "titleFontSize": 44, "titleFontWeight": "normal", "titleColor": "#5c5c5c", "titleX": -99
          }
        }
      }
    }
  ],
  "resolve": {
    "scale": {"color": "independent", "strokeDash": "independent", "strokeWidth": "independent"},
    "legend": {"color": "independent", "strokeDash": "independent", "strokeWidth": "independent"}
  }
}
